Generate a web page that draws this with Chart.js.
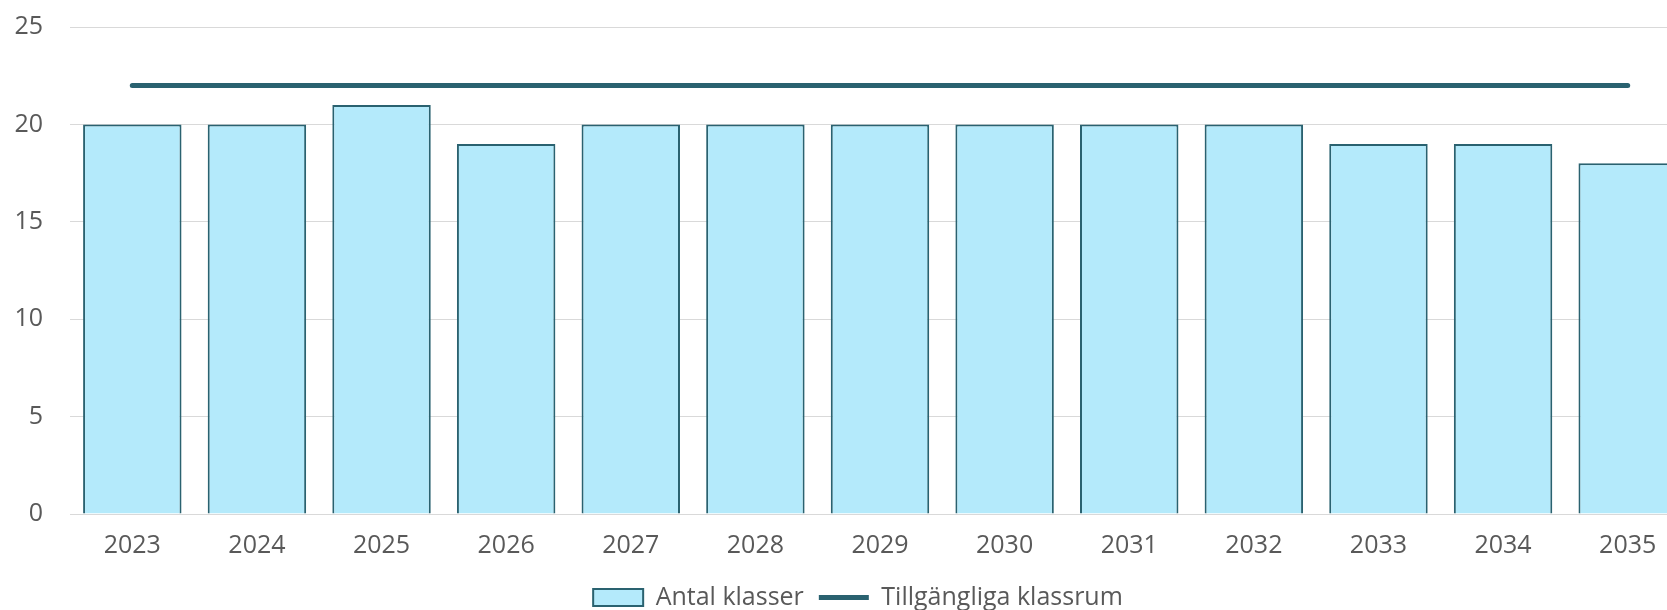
<!DOCTYPE html>
<html>
<head>
<meta charset="utf-8">
<script src="https://cdn.jsdelivr.net/npm/chart.js@4"></script>
<style>
  html, body { margin: 0; padding: 0; overflow: hidden; background: #fff; }
  #wrap { width: 1716px; height: 635px; margin-top: -15px; }
</style>
</head>
<body>
<div id="wrap"><canvas id="classChart"></canvas></div>
<script>
  const years = ['2023', '2024', '2025', '2026', '2027', '2028', '2029',
                 '2030', '2031', '2032', '2033', '2034', '2035'];
  const antalKlasser = [20, 20, 21, 19, 20, 20, 20, 20, 20, 20, 19, 19, 18];
  const tillgangligaKlassrum = [22, 22, 22, 22, 22, 22, 22, 22, 22, 22, 22, 22, 22];

  const dark = '#2a6270';
  const textGrey = '#595959';
  const fontFamily = '"Open Sans", sans-serif';

  const ctx = document.getElementById('classChart').getContext('2d');

  new Chart(ctx, {
    type: 'bar',
    data: {
      labels: years,
      datasets: [
        {
          label: 'Antal klasser',
          data: antalKlasser,
          backgroundColor: '#b4eafb',
          borderColor: dark,
          borderWidth: 2,
          barPercentage: 0.79,
          categoryPercentage: 1
        },
        {
          type: 'line',
          label: 'Tillgängliga klassrum',
          data: tillgangligaKlassrum,
          borderColor: dark,
          backgroundColor: dark,
          borderWidth: 5,
          borderCapStyle: 'round',
          pointRadius: 0,
          fill: false
        }
      ]
    },
    options: {
      responsive: true,
      maintainAspectRatio: false,
      animation: false,
      layout: { padding: 0 },
      plugins: {
        tooltip: { enabled: false },
        legend: {
          position: 'bottom',
          labels: {
            color: textGrey,
            font: { size: 25, family: fontFamily },
            usePointStyle: true,
            pointStyleWidth: 50,
            boxHeight: 17,
            padding: 15,
            generateLabels(chart) {
              const items = Chart.defaults.plugins.legend.labels.generateLabels(chart);
              items.forEach(function(item) {
                const ds = chart.data.datasets[item.datasetIndex];
                item.pointStyle = ds.type === 'line' ? 'line' : 'rect';
              });
              return items;
            }
          }
        }
      },
      scales: {
        x: {
          grid: { display: false },
          border: { display: true, color: '#d9d9d9' },
          ticks: {
            color: textGrey,
            padding: 9,
            font: { size: 25, family: fontFamily }
          }
        },
        y: {
          min: 0,
          max: 25,
          border: { display: false },
          grid: { color: '#d9d9d9', drawTicks: false },
          afterFit(scale) { scale.width = 70; },
          ticks: {
            stepSize: 5,
            color: textGrey,
            padding: 27,
            font: { size: 25, family: fontFamily }
          }
        },
        // empty right-hand strip so the legend sits where the original has it
        yRight: {
          position: 'right',
          display: true,
          border: { display: false },
          grid: { display: false },
          ticks: { display: false },
          afterFit(scale) { scale.width = 26; }
        }
      }
    }
  });
</script>
</body>
</html>
